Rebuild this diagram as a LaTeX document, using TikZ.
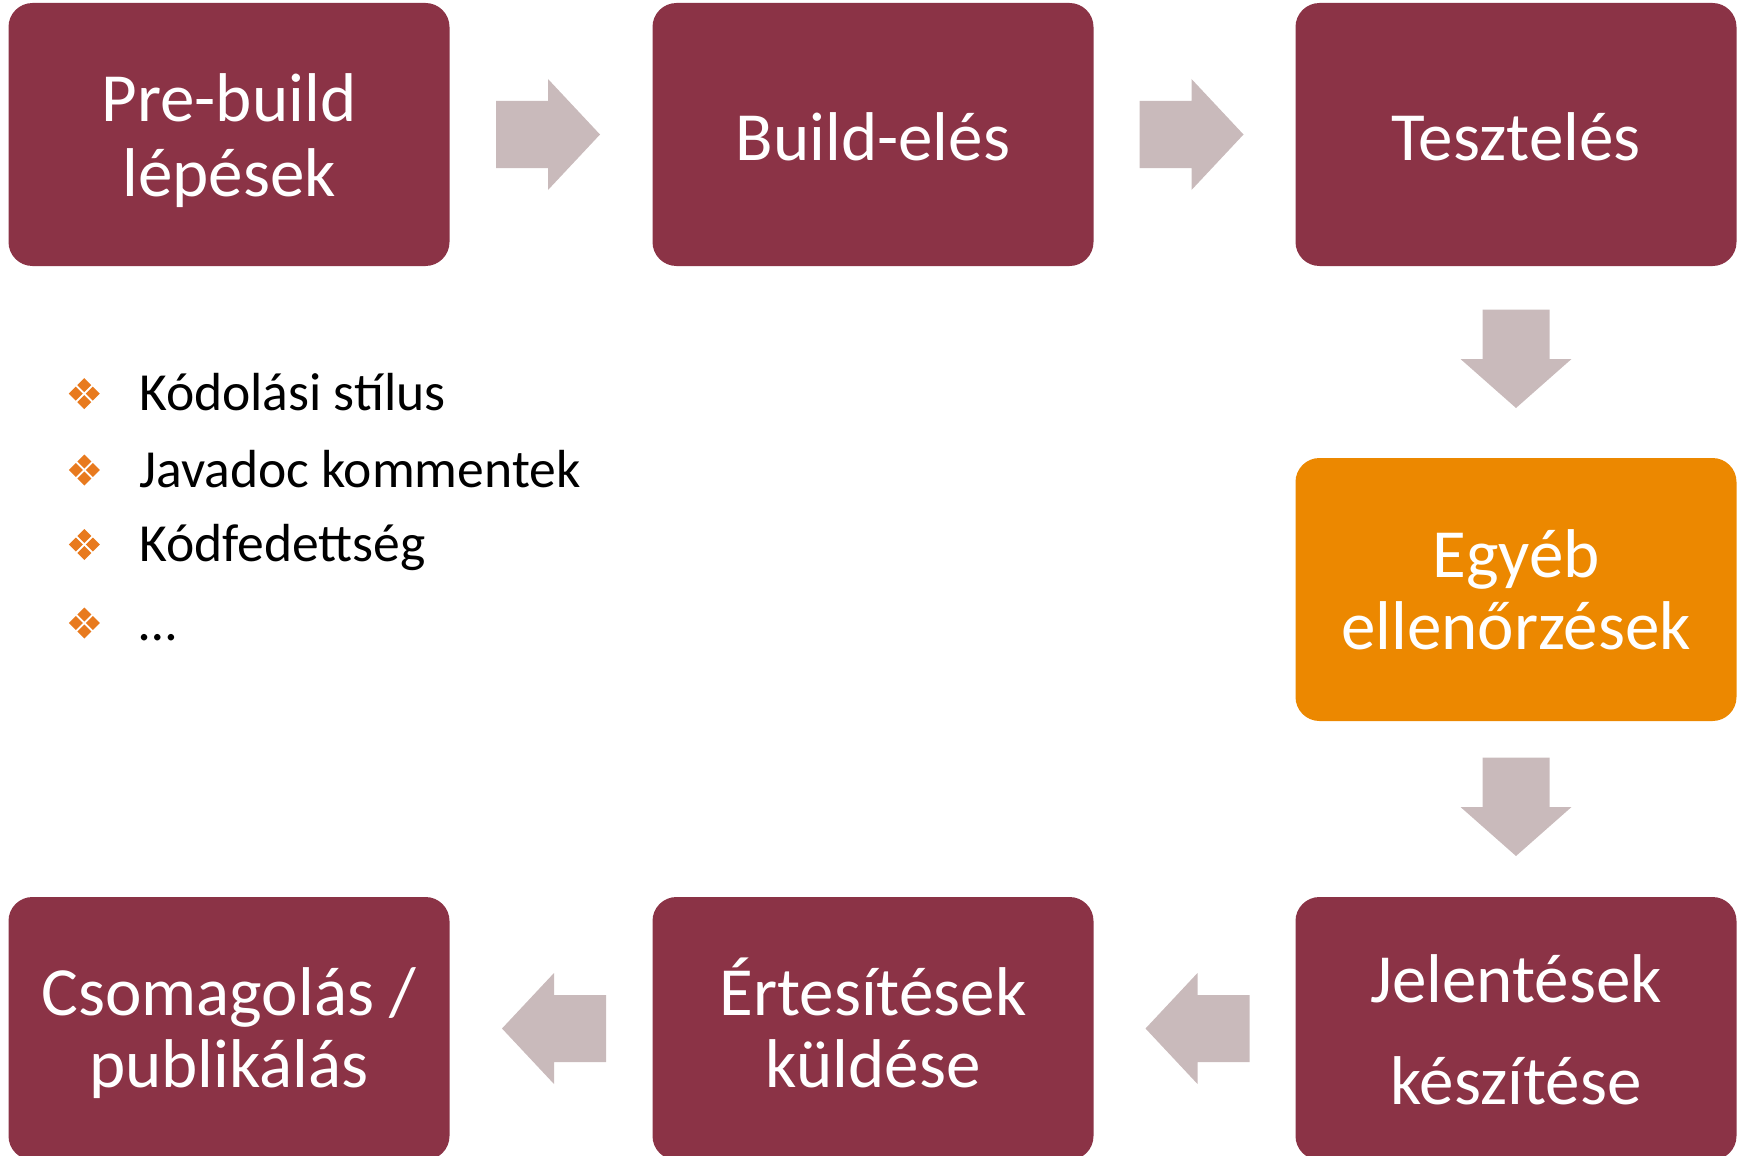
\documentclass[tikz,border=0pt]{standalone}
\usepackage{fontspec}
\setmainfont{Carlito}
\usetikzlibrary{calc}

\definecolor{boxred}{HTML}{8B3346}
\definecolor{boxorange}{HTML}{EC8800}
\definecolor{arrowgray}{HTML}{C9BABB}
\definecolor{bulletorange}{HTML}{E87A1E}

\begin{document}
\begin{tikzpicture}[x=0.5pt,y=-0.5pt,
  stepbox/.style={rectangle, rounded corners=12pt, minimum width=220.5pt,
    minimum height=131.5pt, inner sep=0pt, fill=boxred},
  hotbox/.style={stepbox, fill=boxorange},
  boxtext/.style={anchor=base, inner sep=0pt, text=white,
    font=\fontsize{34.5}{40}\selectfont},
  itemtext/.style={anchor=base west, inner sep=0pt, text=black,
    font=\fontsize{26.8}{32}\selectfont},
  % horizontal block arrow
  flowarrow/.pic={\fill[arrowgray] (-52,-33.5) -- (0,-33.5) -- (0,-55.5)
    -- (52,0) -- (0,55.5) -- (0,33.5) -- (-52,33.5) -- cycle;},
  % slightly shorter block arrow used vertically
  flowarrowshort/.pic={\fill[arrowgray] (-49.5,-33.5) -- (0,-33.5) -- (0,-55.5)
    -- (49,0) -- (0,55.5) -- (0,33.5) -- (-49.5,33.5) -- cycle;},
  diamondbullet/.pic={\foreach \dx/\dy in {8.5/0,-8.5/0,0/8.5,0/-8.5}{
    \fill[bulletorange] (\dx-7,\dy) -- (\dx,\dy-7) -- (\dx+7,\dy)
      -- (\dx,\dy+7) -- cycle;}}
]
\useasboundingbox (0,0) rectangle (1740,1156);

% process steps
\node[stepbox] (pre)    at (229,134.5)  {};
\node[stepbox] (build)  at (873,134.5)  {};
\node[stepbox] (test)   at (1516,134.5) {};
\node[hotbox]  (other)  at (1516,589.5) {};
\node[stepbox] (report) at (1516,1028.5) {};
\node[stepbox] (notify) at (873,1028.5) {};
\node[stepbox] (pack)   at (229,1028.5) {};

% step labels
\node[boxtext] (preA)    at ($(pre.center)+(0,-12.5)$)   {Pre-build};
\node[boxtext] (preB)    at ($(pre.center)+(0,61.5)$)    {lépések};
\node[boxtext] (buildA)  at ($(build.center)+(0,26.5)$)  {Build-elés};
\node[boxtext] (testA)   at ($(test.center)+(0,26.5)$)   {Tesztelés};
\node[boxtext] (otherA)  at ($(other.center)+(0,-12.5)$) {Egyéb};
\node[boxtext] (otherB)  at ($(other.center)+(0,59.5)$)  {ellenőrzések};
\node[boxtext] (reportA) at ($(report.center)+(0,-26.5)$) {Jelentések};
\node[boxtext] (reportB) at ($(report.center)+(0,75.5)$)  {készítése};
\node[boxtext] (notifyA) at ($(notify.center)+(0,-13.5)$) {Értesítések};
\node[boxtext] (notifyB) at ($(notify.center)+(0,58.5)$)  {küldése};
\node[boxtext] (packA)   at ($(pack.center)+(0,-13.5)$)   {Csomagolás /};
\node[boxtext] (packB)   at ($(pack.center)+(0,58.5)$)    {publikálás};

% block arrows between the steps
\path ($(pre.east)!0.5!(build.west)+(-3,0)$) pic{flowarrow};
\path ($(build.east)!0.5!(test.west)+(-3,0)$) pic{flowarrow};
\path ($(test.south)!0.5!(other.north)+(0,-3)$) pic[rotate=-90]{flowarrowshort};
\path ($(other.south)!0.5!(report.north)+(0,-2)$) pic[rotate=-90]{flowarrowshort};
\path ($(report.west)!0.5!(notify.east)+(3,0)$) pic[rotate=180]{flowarrow};
\path ($(notify.west)!0.5!(pack.east)+(3,0)$) pic[rotate=180]{flowarrow};

% pre-build checks
\node[itemtext] (item1) at (138.7,410.6) {Kódolási stílus};
\node[itemtext] (item2) at (138.7,487)   {Javadoc kommentek};
\node[itemtext] (item3) at (138.7,561.5) {Kódfedettség};
\node[itemtext] (item4) at (138.7,640)   {…};
\foreach \i in {1,...,4}{
  \path ($(item\i.base west)+(-54.4,-17)$) pic{diamondbullet};
}
\end{tikzpicture}
\end{document}
